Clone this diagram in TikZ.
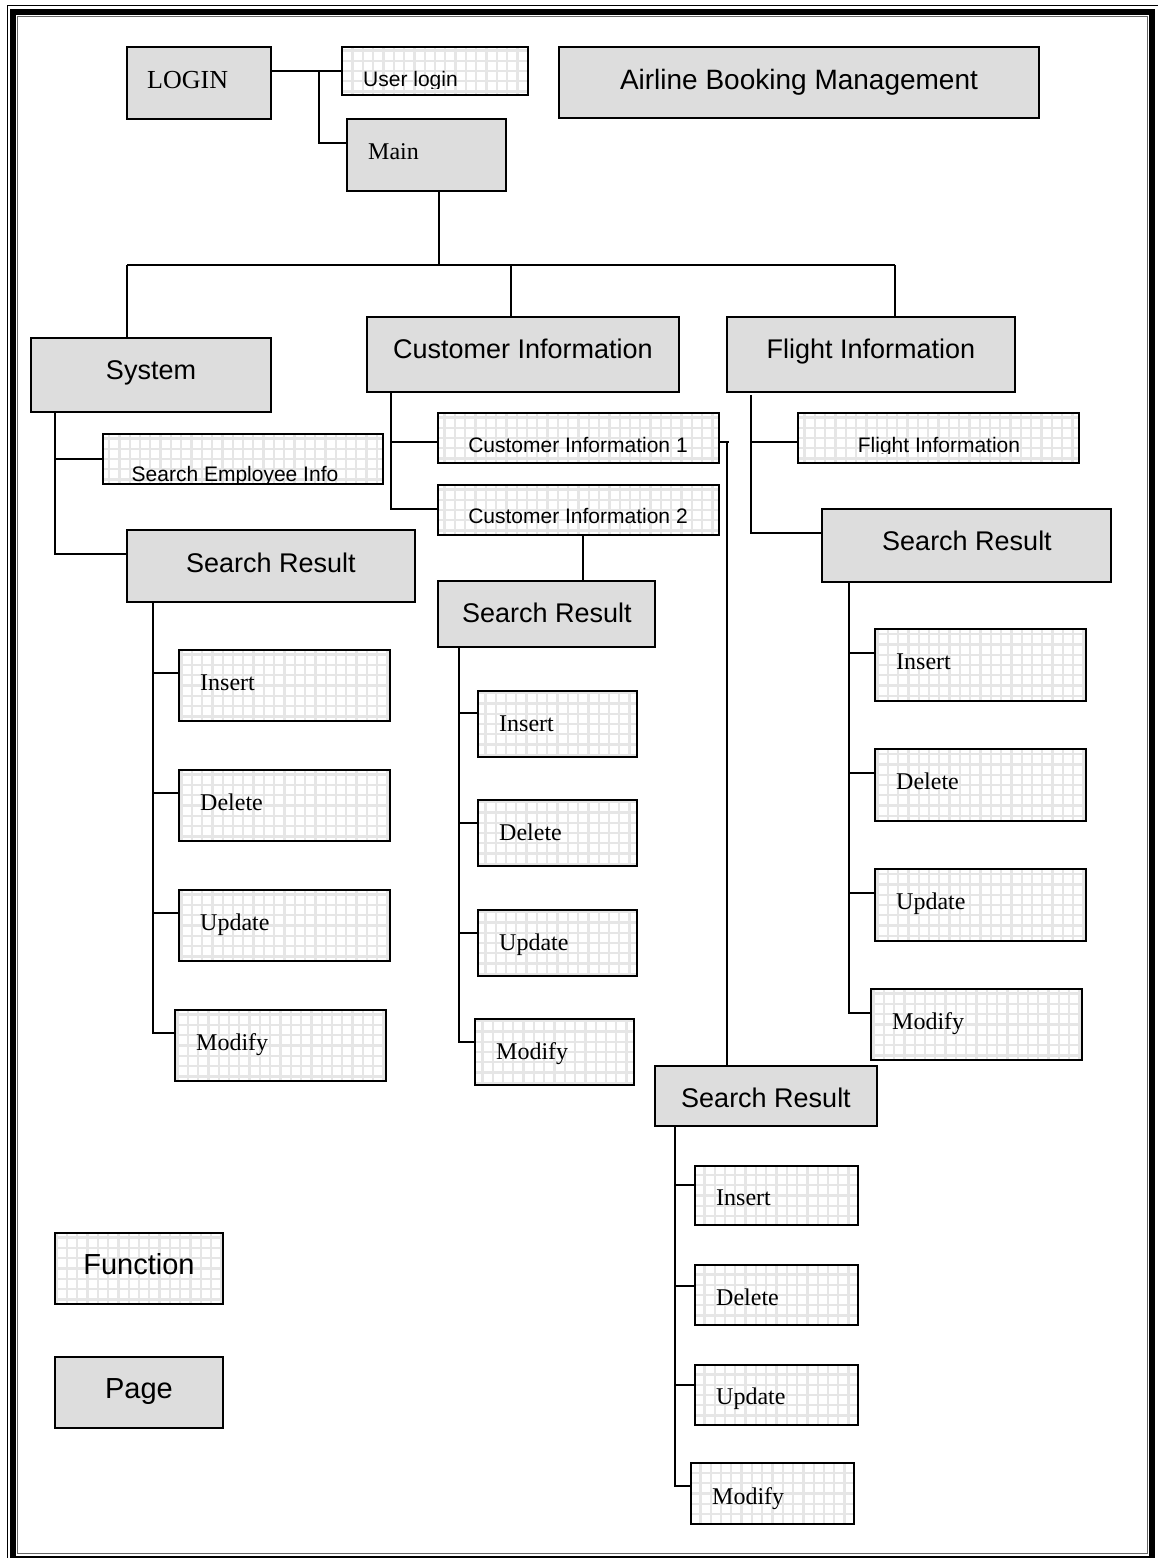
\documentclass[tikz,border=0pt]{standalone}
\usepackage{fontspec}
\setmainfont{Liberation Serif}
\setsansfont{Liberation Sans}
\definecolor{pagegray}{HTML}{DDDDDD}
\definecolor{gridgray}{HTML}{E6E6E6}
\tikzset{
  boxbase/.style={rectangle, draw=black, line width=1.5pt, inner sep=0pt, outer sep=0pt},
  pagebox/.style={boxbase, fill=pagegray},
  funcbox/.style={boxbase, fill=white,
    path picture={\draw[gridgray, line width=2.3pt]
      ([shift={(-20pt,-20pt)}]path picture bounding box.south west) grid[step=10.3pt]
      ([shift={(20pt,20pt)}]path picture bounding box.north east);}},
  link/.style={line width=1.5pt, black},
  bigsans/.style={font=\sffamily\fontsize{27}{32}\selectfont, inner sep=0pt},
  smallsans/.style={font=\sffamily\fontsize{21}{25}\selectfont, inner sep=0pt},
  serifop/.style={font=\rmfamily\fontsize{24}{28}\selectfont, inner sep=0pt},
  legendtxt/.style={font=\sffamily\fontsize{29}{34}\selectfont, inner sep=0pt},
}
% box from corner (x1,y1) to corner (x2,y2), y measured downwards
\newcommand\mkbox[6]{%
  \node[#1, minimum width={(#5-#3)*1pt}, minimum height={(#6-#4)*1pt}]
    (#2) at ({(#3+#5)/2},{(#4+#6)/2}) {};}
\begin{document}
\begin{tikzpicture}[x=1pt, y=-1pt]
\useasboundingbox (0,0) rectangle (1157,1558);
% page frame: thin, thick, thin
\draw[line width=1.3pt] (7.5,5.5) rectangle (1162,1564);
\draw[line width=6pt] (13,12) rectangle (1151.5,1558.5);
\draw[line width=1pt, black!60] (17.3,16.3) rectangle (1147.7,1553.7);

% ---------- top ----------
\mkbox{pagebox}{login}{127}{47}{271}{119}
\node[font=\rmfamily\fontsize{26}{30}\selectfont, inner sep=0pt, anchor=base west] (tlogin) at (147,88) {LOGIN};
\mkbox{funcbox}{ulogin}{342}{47}{528}{95}
\begin{scope}
  \clip (342,47) rectangle (528,88.5);
  \node[smallsans, anchor=base west] (tulogin) at (363,86) {User login};
\end{scope}
\mkbox{pagebox}{abm}{559}{47}{1039}{118}
\node[bigsans, font=\sffamily\fontsize{28}{32}\selectfont, anchor=base] (tabm) at (799,89) {Airline Booking Management};
\mkbox{pagebox}{main}{347}{119}{506}{191}
\node[serifop, anchor=base west] (tmain) at (368,159) {Main};

\coordinate (jlog) at (319,71);
\coordinate (jmain) at (319,143);
\draw[link] (login.east |- jlog) -- (ulogin.west |- jlog);
\draw[link] (jlog) -- (jmain) -- (jmain -| main.west);

% ---------- second level ----------
\mkbox{pagebox}{system}{31}{338}{271}{412}
\node[bigsans, anchor=base] (tsystem) at (151,379) {System};
\mkbox{pagebox}{cust}{367}{317}{679}{392}
\node[bigsans, anchor=base] (tcust) at (523,358) {Customer Information};
\mkbox{pagebox}{flight}{727}{317}{1015}{392}
\node[bigsans, anchor=base] (tflight) at (871,358) {Flight Information};

\coordinate (bus) at (439,265);
\coordinate (busL) at (127,265);
\coordinate (busM) at (511,265);
\coordinate (busR) at (895,265);
\draw[link] (main.south -| bus) -- (bus);
\draw[link] (busL) -- (busR);
\draw[link] (busL) -- (system.north -| busL);
\draw[link] (busM) -- (cust.north -| busM);
\draw[link] (busR) -- (flight.north -| busR);

% ---------- system branch ----------
\mkbox{funcbox}{sei}{103}{434}{383}{484}
\begin{scope}
  \clip (103,434) rectangle (383,482.3);
  \node[smallsans, anchor=base] (tsei) at (235,481) {Search Employee Info};
\end{scope}
\mkbox{pagebox}{srL}{127}{530}{415}{602}
\node[bigsans, anchor=base] (tsrL) at (271,572) {Search Result};
\coordinate (sysA) at (55,411);
\coordinate (sysB) at (55,554);
\coordinate (sysC) at (55,459);
\draw[link] (sysA) -- (sysB) -- (sysB -| srL.west);
\draw[link] (sysC) -- (sei.west |- sysC);

% ---------- customer branch ----------
\mkbox{funcbox}{ci1}{438}{413}{719}{463}
\node[smallsans, anchor=base] (tci1) at (578,452) {Customer Information 1};
\mkbox{funcbox}{ci2}{438}{485}{719}{535}
\node[smallsans, anchor=base] (tci2) at (578,523) {Customer Information 2};
\coordinate (custA) at (391,442);
\coordinate (custB) at (391,509);
\draw[link] (cust.south -| custB) -- (custB) -- (custB -| ci2.west);
\draw[link] (custA) -- (ci1.west |- custA);
\mkbox{pagebox}{srM}{438}{581}{655}{647}
\node[bigsans, anchor=base] (tsrM) at (547,622) {Search Result};
\coordinate (ci2down) at (583,560);
\draw[link] (ci2.south -| ci2down) -- (srM.north -| ci2down);
\mkbox{pagebox}{srB}{655}{1066}{877}{1126}
\node[bigsans, anchor=base] (tsrB) at (766,1107) {Search Result};
\coordinate (ciR) at (727,442);
\coordinate (ciRtip) at (729,442);
\draw[link] (ci1.east |- ciR) -- (ciRtip);
\draw[link] (ciR) -- (srB.north -| ciR);

% ---------- flight branch ----------
\mkbox{funcbox}{fi}{798}{413}{1079}{463}
\begin{scope}
  \clip (798,413) rectangle (1079,453.5);
  \node[smallsans, anchor=base] (tfi) at (939,452) {Flight Information};
\end{scope}
\mkbox{pagebox}{srR}{822}{509}{1111}{582}
\node[bigsans, anchor=base] (tsrR) at (967,550) {Search Result};
\coordinate (flA) at (751,442);
\coordinate (flB) at (751,533);
\draw[link] (flight.south -| flB) ++(0,3) -- (flB) -- (flB -| srR.west);
\draw[link] (flA) -- (fi.west |- flA);

% ---------- operation boxes ----------
\foreach \nm/\txt/\xa/\xb/\ya/\yb/\bl/\tx in {
  LIns/Insert/179/390/650/721/690/200,
  LDel/Delete/179/390/770/841/810/200,
  LUpd/Update/179/390/890/961/930/200,
  LMod/Modify/175/386/1010/1081/1050/196,
  MIns/Insert/478/637/691/757/731/499,
  MDel/Delete/478/637/800/866/840/499,
  MUpd/Update/478/637/910/976/950/499,
  MMod/Modify/475/634/1019/1085/1059/496,
  RIns/Insert/875/1086/629/701/669/896,
  RDel/Delete/875/1086/749/821/789/896,
  RUpd/Update/875/1086/869/941/909/896,
  RMod/Modify/871/1082/989/1060/1029/892,
  BIns/Insert/695/858/1166/1225/1205/716,
  BDel/Delete/695/858/1265/1325/1305/716,
  BUpd/Update/695/858/1365/1425/1404/716,
  BMod/Modify/691/854/1463/1524/1504/712}{
  \mkbox{funcbox}{\nm}{\xa}{\ya}{\xb}{\yb}
  \node[serifop, anchor=base west] (t\nm) at (\tx,\bl) {\txt};
}
% trunks under each result page
\foreach \pn/\tx/\lasty in {srL/153/1033, srM/459/1042, srR/849/1013, srB/675/1486}{
  \coordinate (end-\pn) at (\tx,\lasty);
  \draw[link] (\pn.south -| end-\pn) -- ([yshift=-0.7pt]end-\pn);
}
% branches to each operation
\foreach \nm/\tx/\br in {LIns/153/673, LDel/153/793, LUpd/153/913, LMod/153/1033,
  MIns/459/713, MDel/459/823, MUpd/459/933, MMod/459/1042,
  RIns/849/653, RDel/849/773, RUpd/849/893, RMod/849/1013,
  BIns/675/1185, BDel/675/1286, BUpd/675/1385, BMod/675/1486}{
  \coordinate (br-\nm) at (\tx,\br);
  \draw[link] (br-\nm) -- (\nm.west |- br-\nm);
}

% ---------- legend ----------
\mkbox{funcbox}{lgfunc}{55}{1233}{223}{1304}
\node[legendtxt, anchor=base] (tlgfunc) at (139,1274) {Function};
\mkbox{pagebox}{lgpage}{55}{1357}{223}{1428}
\node[legendtxt, anchor=base] (tlgpage) at (139,1398) {Page};
\end{tikzpicture}
\end{document}
